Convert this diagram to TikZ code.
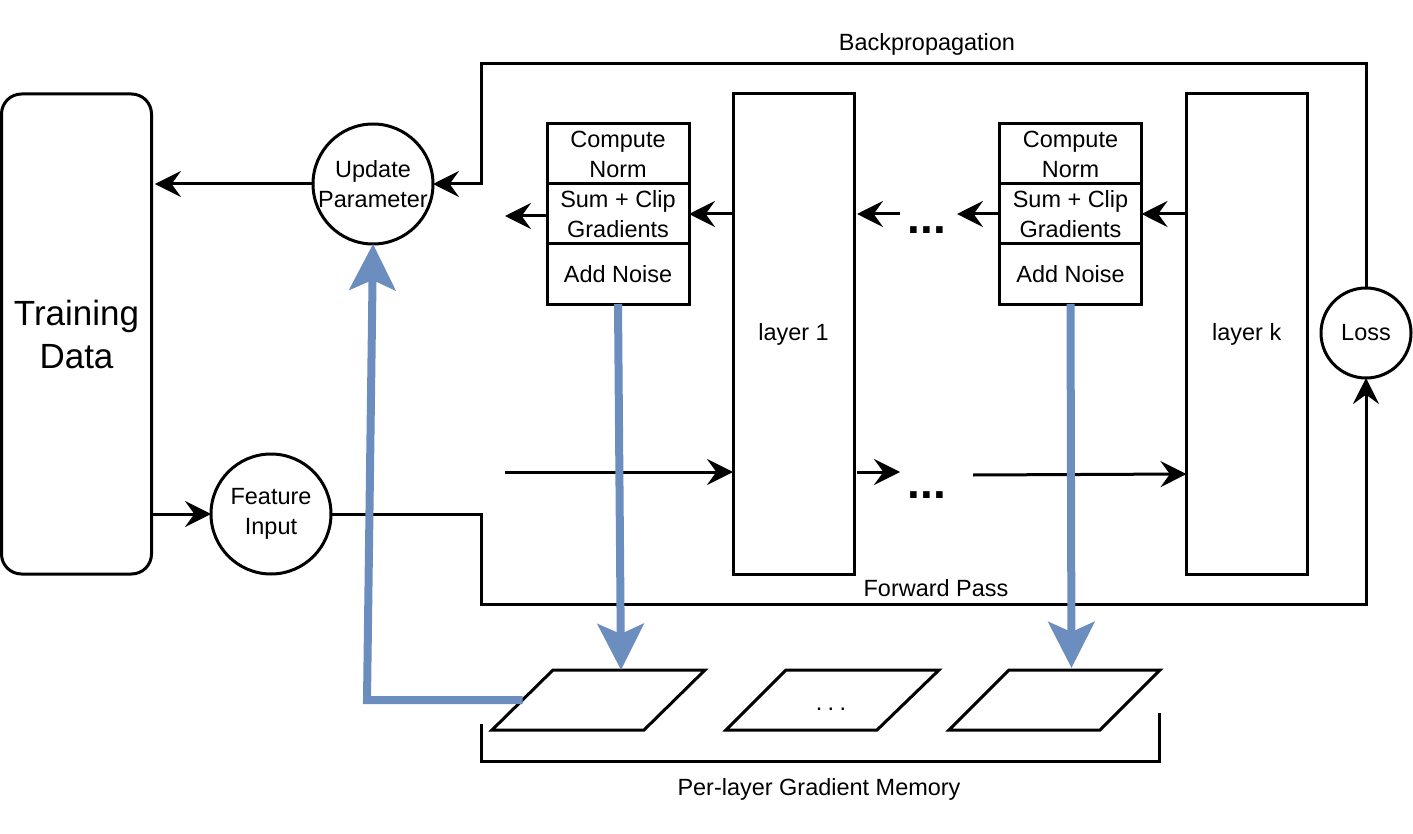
\documentclass[tikz,border=0pt]{standalone}
\usepackage{fontspec}
\setmainfont{Liberation Sans}
\usetikzlibrary{arrows.meta,calc}
\definecolor{bluec}{HTML}{6C8EBF}
\begin{document}
\begin{tikzpicture}[x=0.75pt,y=-0.75pt,
  line width=2.25pt,
  every node/.style={font=\fontsize{17.6}{22.5}\selectfont, inner sep=0pt, outer sep=0pt},
  blk/.style={draw, line width=2.25pt, rectangle},
  cell/.style={draw, line width=2.25pt, rectangle, minimum width=106.5pt, minimum height=45pt, align=center},
  circ/.style={draw, line width=2.25pt, circle, minimum size=90pt},
  lbl/.style={align=center},
  arr/.style={-{Stealth[length=19.5pt,width=19.5pt,inset=7pt]}},
  barr/.style={draw=bluec, line width=6pt, line join=miter, -{Stealth[length=34.5pt,width=34.5pt,inset=7.5pt]}},
  dotsb/.style={anchor=base, font=\bfseries\fontsize{34.5}{34.5}\selectfont},
]
\useasboundingbox (0,0) rectangle (1413,834);

% main nodes
\node[blk, rounded corners=15pt, minimum width=112.5pt, minimum height=360pt,
  label={[lbl, font=\fontsize{26.25}{32}\selectfont, yshift=-0.5pt]center:Training\\Data}] (train) at (76.5,334) {};
\node[circ, label={[lbl]center:Update\\Parameter}] (update) at (373,184) {};
\node[circ, label={[lbl]center:Feature\\Input}] (feat) at (271,514) {};
\node[circ, minimum size=67.5pt] (loss) at (1366,333) {Loss};
\node[blk, minimum width=90.75pt, minimum height=360pt] (layer1) at (793.5,334) {layer 1};
\node[blk, minimum width=90.4pt, minimum height=360pt] (layerk) at (1246.75,334) {layer k};

\node[cell] (a1) at (618,154) {Compute\\Norm};
\node[cell] (b1) at (618,214) {Sum + Clip\\Gradients};
\node[cell] (c1) at (618,274) {Add Noise};
\node[cell] (a2) at (1070.5,154) {Compute\\Norm};
\node[cell] (b2) at (1070.5,214) {Sum + Clip\\Gradients};
\node[cell] (c2) at (1070.5,274) {Add Noise};

% labels
\node[anchor=base] (bplbl) at (927,51) {Backpropagation};
\node[anchor=base] (fplbl) at (936,596.7) {Forward Pass};
\node[anchor=base] (memlbl) at (819,795) {Per-layer Gradient Memory};
\node[dotsb] (dots1) at (927,234) {...};
\node[dotsb] (dots2) at (927,498) {...};

% backpropagation / forward loops
\coordinate (bp1) at (481,64);
\coordinate (fp1) at (481,604);
\draw[arr] (loss.north) |- (bp1) |- (update.east);
\draw[arr] (feat.east) -| (fp1) -| (loss.south);

\draw[arr, shorten >=2.6pt] (update.west) -- (train.east |- update.west);
\draw[arr] (train.east |- feat.west) -- (feat.west);

% backward row
\coordinate (g0) at (505,216);
\coordinate (g1s) at (900,214);
\coordinate (g1e) at (857,214);
\coordinate (g2) at (957,214);
\draw[arr] (layer1.west |- b1) -- (b1.east);
\draw[arr] (b1.west |- g0) -- (g0);
\draw[arr] (g1s) -- (g1e);
\draw[arr] (b2.west) -- (g2);
\draw[arr] (layerk.west |- b2) -- (b2.east);

% forward row
\coordinate (f0) at (505,472);
\coordinate (f1s) at (857,472);
\coordinate (f1e) at (900,472);
\coordinate (f2) at (973,475);
\coordinate (f2e) at (1186.5,474);
\draw[arr] (f0) -- (f0 -| layer1.west);
\draw[arr] (f1s) -- (f1e);
\draw[arr] (f2) -- (f2e);

% gradient memory
\draw (553,670) -- (705,670) -- (644,730) -- (492,730) -- cycle;
\draw (786,670) -- (939,670) -- (877,730) -- (726,730) -- cycle;
\draw (1009,670) -- (1160,670) -- (1100,730) -- (949,730) -- cycle;
\node[anchor=base] (mdots) at (831,710) {.\hspace{4pt}.\hspace{4pt}.};
\coordinate (br1) at (481,724);
\coordinate (br2) at (1159,713);
\draw (br1) -- (br1 |- 0,761) -| (br2);

% blue arrows
\coordinate (m1top) at (621,670);
\coordinate (m3top) at (1071.5,668);
\coordinate (m1left) at (522.5,700);
\coordinate (bl) at (367,700);
\draw[barr] (c1.south) -- (m1top);
\draw[barr] (c2.south) -- (m3top);
\draw[barr] (m1left) -- (bl) -- (update.south);
\end{tikzpicture}
\end{document}
